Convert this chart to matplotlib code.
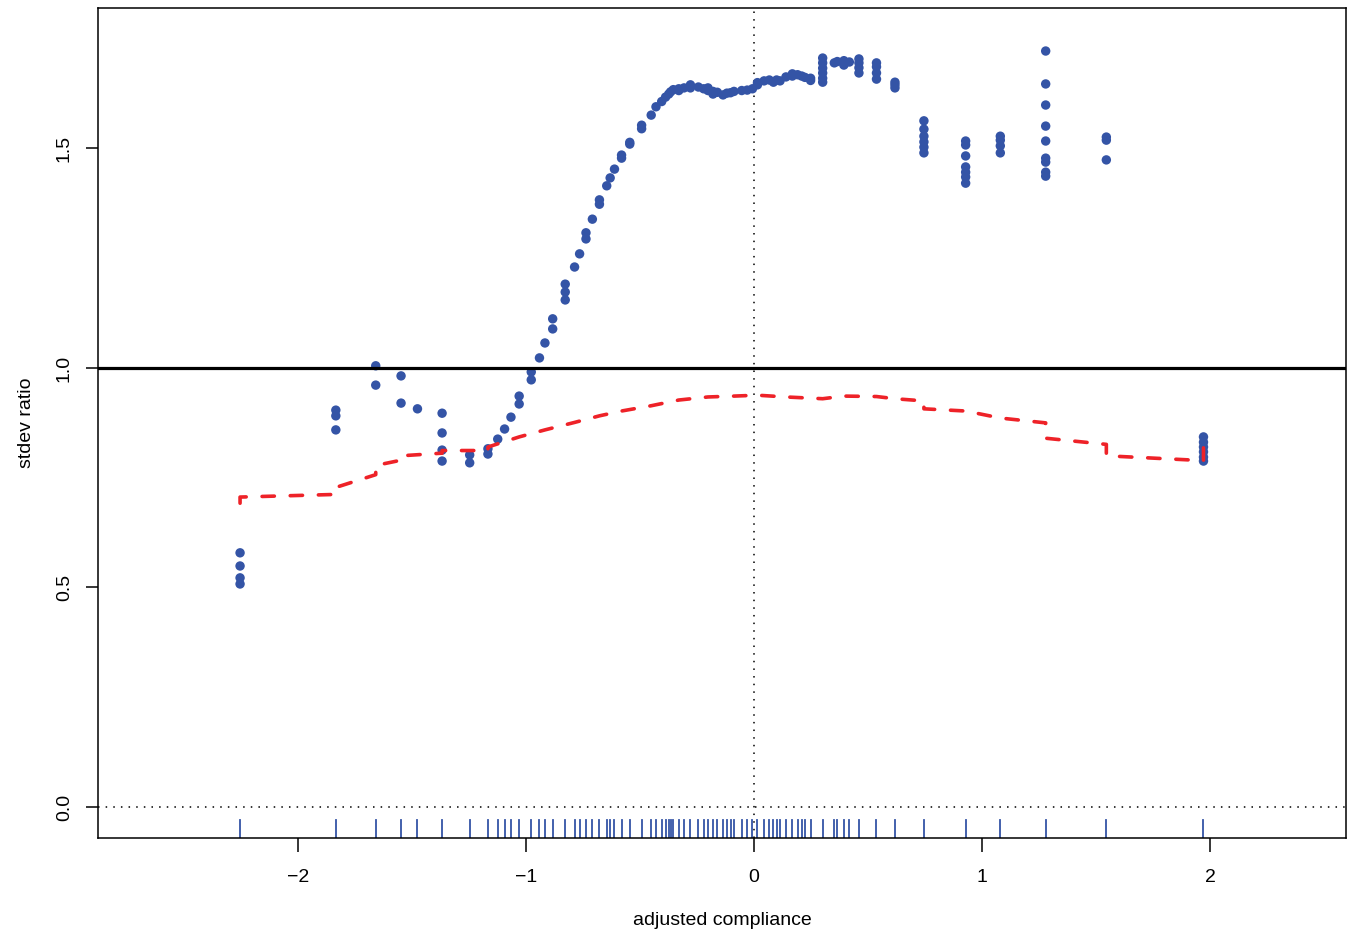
import numpy as np
import matplotlib
matplotlib.use("Agg")
from matplotlib import pyplot as plt
from matplotlib import transforms as mtransforms

# x positions of the point clusters (also the rug) and the stdev ratios at each
cluster_x = [-2.254, -1.834, -1.659, -1.548, -1.476, -1.368, -1.247, -1.167, -1.124, -1.094,
             -1.066, -1.030, -0.977, -0.941, -0.917, -0.883, -0.828, -0.787, -0.765, -0.737,
             -0.709, -0.678, -0.646, -0.631, -0.612, -0.581, -0.545, -0.493, -0.451, -0.430,
             -0.405, -0.388, -0.374, -0.366, -0.354, -0.330, -0.307, -0.279, -0.244, -0.221,
             -0.202, -0.180, -0.161, -0.136, -0.119, -0.103, -0.088, -0.054, -0.030, -0.007,
             0.015, 0.044, 0.067, 0.085, 0.099, 0.114, 0.140, 0.168, 0.191, 0.209,
             0.223, 0.248, 0.301, 0.352, 0.365, 0.394, 0.418, 0.460, 0.537, 0.618,
             0.745, 0.928, 1.080, 1.279, 1.545, 1.971]
cluster_y = [[0.579, 0.549, 0.522, 0.508], [0.904, 0.891, 0.859], [1.005, 0.961], [0.982, 0.920],
             [0.907], [0.897, 0.852, 0.813, 0.788], [0.802, 0.784], [0.816, 0.804], [0.838], [0.861],
             [0.888], [0.936, 0.918], [0.991, 0.973], [1.023], [1.057], [1.112, 1.089],
             [1.191, 1.173, 1.155], [1.230], [1.260], [1.308, 1.294],
             [1.339], [1.383, 1.373], [1.415], [1.433], [1.453], [1.485, 1.478], [1.514, 1.510],
             [1.553, 1.545], [1.576], [1.595],
             [1.607], [1.617], [1.624], [1.629], [1.634], [1.636, 1.632], [1.638], [1.645, 1.638],
             [1.640], [1.636],
             [1.638, 1.632], [1.630, 1.624], [1.628], [1.622], [1.626], [1.627], [1.630], [1.632],
             [1.633], [1.636],
             [1.650, 1.645], [1.654], [1.656], [1.651], [1.656], [1.654], [1.663], [1.670, 1.665],
             [1.668], [1.665],
             [1.662], [1.660, 1.655], [1.706, 1.695, 1.683, 1.672, 1.660, 1.651], [1.695], [1.698],
             [1.700, 1.690], [1.697], [1.704, 1.695, 1.684, 1.672], [1.695, 1.686, 1.672, 1.658],
             [1.651, 1.645, 1.638],
             [1.563, 1.544, 1.528, 1.515, 1.503, 1.490],
             [1.517, 1.508, 1.483, 1.458, 1.446, 1.435, 1.421],
             [1.528, 1.519, 1.506, 1.490],
             [1.722, 1.647, 1.599, 1.551, 1.517, 1.478, 1.469, 1.446, 1.437],
             [1.526, 1.519, 1.474],
             [0.843, 0.831, 0.820, 0.809, 0.797, 0.788]]

# red dashed reference curve
curve_x = [-2.254, -2.254, -1.834, -1.834, -1.659, -1.659, -1.548, -1.548, -1.368, -1.368,
           -1.167, -1.167, -1.030, -0.917, -0.787, -0.678, -0.581, -0.451, -0.330, -0.202,
           -0.088, 0.015, 0.140, 0.301, 0.394, 0.537, 0.618, 0.745, 0.745, 0.928,
           1.080, 1.279, 1.279, 1.545, 1.545, 1.971, 1.971]
curve_y = [0.692, 0.706, 0.712, 0.728, 0.757, 0.778, 0.790, 0.800, 0.806, 0.812,
           0.812, 0.820, 0.843, 0.859, 0.876, 0.891, 0.902, 0.914, 0.927, 0.934,
           0.936, 0.938, 0.934, 0.930, 0.936, 0.935, 0.930, 0.925, 0.907, 0.902,
           0.886, 0.875, 0.840, 0.826, 0.800, 0.789, 0.838]

x_ticks = [-2, -1, 0, 1, 2]
y_ticks = [0.0, 0.5, 1.0, 1.5]

blue = '#3454a6'
red = '#ee2228'

plt.rcParams['font.family'] = ['Liberation Sans', 'DejaVu Sans']
plt.rcParams['font.size'] = 14

fig = plt.figure(figsize=(13.48, 9.33), dpi=100)
ax = fig.add_axes([98 / 1348, 1 - 838 / 933, 1248 / 1348, 830 / 933])

pt_x = np.concatenate([[x] * len(ys) for x, ys in zip(cluster_x, cluster_y)])
pt_y = np.concatenate(cluster_y)
ax.scatter(pt_x, pt_y, s=46, color=blue, edgecolors='none', zorder=3)

# rug along the bottom
trans = mtransforms.blended_transform_factory(ax.transData, ax.transAxes)
for x in cluster_x:
    ax.plot([x, x], [0, 0.022], color=blue, lw=1.3, transform=trans, zorder=2)

ax.axhline(1.0, color='black', lw=2.3, zorder=4)
ax.axhline(0.0, color='black', lw=1.1, dashes=(1, 4), zorder=1)
ax.axvline(0.0, color='black', lw=1.1, dashes=(1, 4), zorder=1)

ax.plot(curve_x, curve_y, color=red, lw=2.6, dashes=(3.4, 4.4),
        dash_capstyle='round', solid_capstyle='round', zorder=5)

ax.set_xlim(-2.877, 2.596)
ax.set_ylim(-0.0706, 1.820)
ax.set_xticks(x_ticks)
ax.set_xticklabels(['\u22122', '\u22121', '0', '1', '2'])
ax.set_yticks(y_ticks)
ax.set_yticklabels(['0.0', '0.5', '1.0', '1.5'], rotation=90, va='center')
ax.tick_params(axis='x', length=10, width=1.1, pad=12, labelsize=14)
ax.tick_params(axis='y', length=9, width=1.1, pad=9, labelsize=14)
for s in ax.spines.values():
    s.set_linewidth(1.1)

ax.set_xlabel('adjusted compliance', fontsize=14, labelpad=19)
ax.set_ylabel('stdev ratio', fontsize=14, labelpad=15)

plt.savefig('out.png', dpi=100)
